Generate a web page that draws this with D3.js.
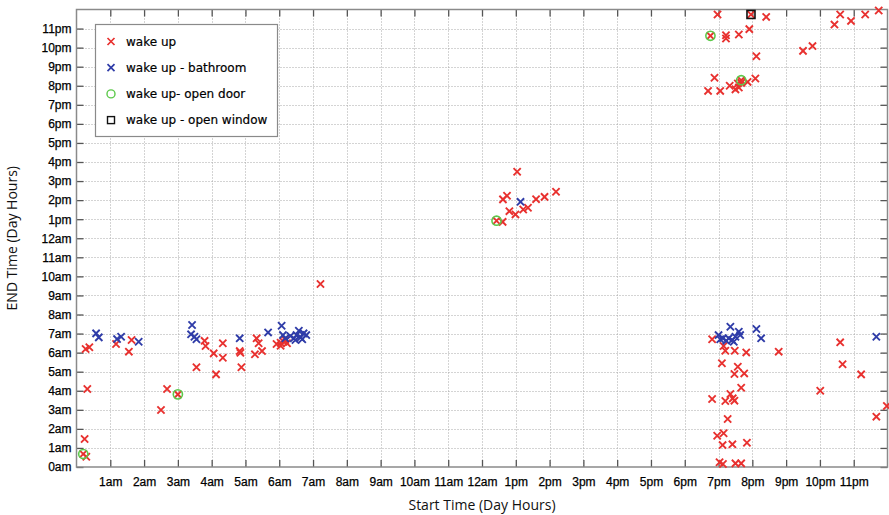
<!DOCTYPE html>
<html>
<head>
<meta charset="utf-8">
<script src="https://cdn.jsdelivr.net/npm/d3@7"></script>
<style>
  body { margin: 0; background: #fff; }
  svg { display: block; }
</style>
</head>
<body>
<svg id="chart"></svg>
<script>
// tick labels
const xTickHours = d3.range(1, 24);
const yTickHours = d3.range(0, 24);
const hourLabels = ["0am", "1am", "2am", "3am", "4am", "5am", "6am", "7am", "8am", "9am", "10am", "11am",
  "12am", "1pm", "2pm", "3pm", "4pm", "5pm", "6pm", "7pm", "8pm", "9pm", "10pm", "11pm"];

// [start hour, end hour]
const wakeUp = [
  [0.27, 6.19], [0.38, 6.28], [0.32, 4.09], [0.24, 1.47], [0.2, 0.68], [0.29, 0.54],
  [1.17, 6.45], [1.63, 6.66], [1.55, 6.05],
  [2.68, 4.09], [2.5, 2.99], [3.0, 3.81],
  [3.79, 6.62], [3.82, 6.35], [3.55, 5.23], [4.06, 5.96], [4.13, 4.86], [4.33, 6.49], [4.33, 5.73],
  [4.83, 6.08], [4.85, 5.99], [4.88, 5.23],
  [5.33, 6.75], [5.39, 6.49], [5.28, 5.91], [5.49, 6.08],
  [5.92, 6.45], [6.04, 6.52], [6.13, 6.57], [6.04, 6.36], [6.18, 6.66], [6.23, 6.49],
  [7.22, 9.6],
  [13.04, 15.49], [12.62, 14.04], [12.74, 14.23], [12.81, 13.42], [12.99, 13.25], [13.22, 13.51],
  [13.36, 13.6], [13.6, 14.05], [13.85, 14.17], [14.19, 14.44], [12.43, 12.92], [12.61, 12.86],
  [18.97, 23.74], [19.96, 23.74], [20.41, 23.61], [18.76, 22.62], [19.22, 22.65], [19.22, 22.48],
  [19.6, 22.69], [19.91, 22.97], [20.12, 21.55], [18.88, 20.42], [18.69, 19.73], [19.05, 19.73],
  [19.33, 20.0], [19.5, 19.81], [19.6, 19.91], [19.67, 20.15], [19.57, 20.12], [19.67, 20.29],
  [19.86, 20.2], [20.09, 20.38], [21.5, 21.83], [21.78, 22.08], [22.43, 23.21], [22.6, 23.74],
  [22.92, 23.4], [23.34, 23.74], [23.74, 23.95],
  [18.81, 6.7], [19.15, 6.35], [19.2, 6.1], [19.48, 6.1], [19.82, 6.01], [19.1, 5.44], [19.57, 5.26],
  [19.47, 4.88], [19.76, 4.91], [19.67, 4.16], [18.81, 3.57], [19.35, 3.83], [19.2, 3.46],
  [19.42, 3.6], [19.47, 3.48], [19.27, 2.52], [18.96, 1.64], [19.15, 1.77], [19.12, 1.15],
  [19.41, 1.19], [19.84, 1.27], [19.03, 0.25], [19.13, 0.16], [19.5, 0.19], [19.67, 0.19],
  [20.78, 6.05],
  [22.6, 6.54], [22.67, 5.39], [23.22, 4.86], [22.01, 4.0], [23.98, 3.2], [23.67, 2.64]
];
const bathroom = [
  [0.58, 7.01], [0.66, 6.8], [1.2, 6.71], [1.32, 6.83], [1.84, 6.57],
  [3.42, 7.45], [3.39, 6.96], [3.49, 6.83], [3.55, 6.7],
  [4.83, 6.75], [5.67, 7.06], [6.07, 7.41], [6.11, 6.92], [6.18, 6.75],
  [6.33, 6.87], [6.43, 6.75], [6.51, 6.92], [6.58, 7.15], [6.63, 6.8], [6.72, 7.01], [6.8, 6.92],
  [6.48, 6.66], [6.68, 6.7],
  [13.14, 13.91],
  [19.35, 7.36], [20.12, 7.24], [20.26, 6.75], [19.6, 7.1], [19.64, 6.92], [19.0, 6.92],
  [19.13, 6.75], [19.23, 6.62], [19.3, 6.75], [19.4, 6.66], [19.5, 6.83], [19.05, 6.7], [19.45, 6.57],
  [23.67, 6.83]
];
const openDoor = [[0.2, 0.68], [3.0, 3.81], [12.43, 12.92], [18.76, 22.62], [19.67, 20.29]];
const openWindow = [[19.96, 23.74]];

const width = 889, height = 515;
const plot = { left: 76.5, right: 887.5, top: 9.5, bottom: 467 };

const red = "#e8312f", blue = "#2f3ca8", green = "#5cc94a", frameColor = "#8a8a8a";

const svg = d3.select("#chart").attr("width", width).attr("height", height)
  .style("font-family", "'DejaVu Sans', sans-serif");

const x = d3.scaleLinear().domain([0, 24]).range([plot.left, plot.right]);
const y = d3.scaleLinear().domain([0, 24]).range([plot.bottom, plot.top]);

// grid
const grid = svg.append("g").attr("stroke", "#a8a8a8").attr("stroke-width", 1)
  .attr("stroke-dasharray", "1,2");
grid.selectAll(".gx").data(xTickHours).join("line")
  .attr("x1", d => Math.round(x(d)) + 0.5).attr("x2", d => Math.round(x(d)) + 0.5)
  .attr("y1", plot.top).attr("y2", plot.bottom);
grid.selectAll(".gy").data(yTickHours.slice(1)).join("line")
  .attr("y1", d => Math.round(y(d)) + 0.5).attr("y2", d => Math.round(y(d)) + 0.5)
  .attr("x1", plot.left).attr("x2", plot.right);

// axes with inward ticks on all sides
function styleAxis(g) {
  g.select(".domain").remove();
  g.selectAll(".tick line").attr("stroke", "#555").attr("stroke-width", 1.3);
  g.selectAll(".tick text").attr("fill", "#000").attr("font-size", "12px")
    .attr("stroke", "#000").attr("stroke-width", 0.25);
}
svg.append("g").attr("transform", `translate(0,${plot.bottom})`)
  .call(d3.axisBottom(x).tickValues(xTickHours).tickSize(-7).tickPadding(10)
    .tickFormat(d => hourLabels[d]))
  .call(styleAxis);
svg.append("g").attr("transform", `translate(0,${plot.top})`)
  .call(d3.axisTop(x).tickValues(xTickHours).tickSize(-7).tickFormat(""))
  .call(styleAxis);
svg.append("g").attr("transform", `translate(${plot.left},0)`)
  .call(d3.axisLeft(y).tickValues(yTickHours).tickSize(-7).tickPadding(5)
    .tickFormat(d => hourLabels[d]))
  .call(styleAxis);
svg.append("g").attr("transform", `translate(${plot.right},0)`)
  .call(d3.axisRight(y).tickValues(yTickHours).tickSize(-7).tickFormat(""))
  .call(styleAxis);

// frame
svg.append("rect")
  .attr("x", plot.left).attr("y", plot.top)
  .attr("width", plot.right - plot.left).attr("height", plot.bottom - plot.top)
  .attr("fill", "none").attr("stroke", frameColor).attr("stroke-width", 1.5);

// markers
const cross = (s) => `M${-s},${-s}L${s},${s}M${-s},${s}L${s},${-s}`;

const marks = svg.append("g");
function drawCrosses(data, color) {
  marks.append("g").selectAll("path").data(data).join("path")
    .attr("transform", d => `translate(${x(d[0])},${y(d[1])})`)
    .attr("d", cross(3.6))
    .attr("fill", "none").attr("stroke", color).attr("stroke-width", 1.9);
}
drawCrosses(wakeUp, red);
drawCrosses(bathroom, blue);

marks.append("g").selectAll("circle").data(openDoor).join("circle")
  .attr("cx", d => x(d[0])).attr("cy", d => y(d[1])).attr("r", 4.6)
  .attr("fill", "none").attr("stroke", green).attr("stroke-width", 1.6);

marks.append("g").selectAll("rect").data(openWindow).join("rect")
  .attr("x", d => x(d[0]) - 4).attr("y", d => y(d[1]) - 4)
  .attr("width", 8).attr("height", 8)
  .attr("fill", "none").attr("stroke", "#111").attr("stroke-width", 1.6);

// legend
const legendItems = ["wake up", "wake up - bathroom", "wake up- open door", "wake up - open window"];
const legend = svg.append("g");
legend.append("rect").attr("x", 95.5).attr("y", 24.5).attr("width", 182).attr("height", 112)
  .attr("fill", "#fff").attr("stroke", frameColor).attr("stroke-width", 1.2);
const rows = legend.selectAll("g").data(legendItems).join("g")
  .attr("transform", (d, i) => `translate(111,${41.5 + i * 26.2})`);
rows.append("text").attr("x", 15).attr("dy", "0.35em").attr("font-size", "12px")
  .attr("fill", "#000").attr("stroke", "#000").attr("stroke-width", 0.2).text(d => d);
rows.filter((d, i) => i === 0).append("path").attr("d", cross(3.5))
  .attr("stroke", red).attr("stroke-width", 1.7);
rows.filter((d, i) => i === 1).append("path").attr("d", cross(3.5))
  .attr("stroke", blue).attr("stroke-width", 1.7);
rows.filter((d, i) => i === 2).append("circle").attr("r", 4)
  .attr("fill", "none").attr("stroke", green).attr("stroke-width", 1.4);
rows.filter((d, i) => i === 3).append("rect").attr("x", -3.5).attr("y", -3.5)
  .attr("width", 7).attr("height", 7)
  .attr("fill", "none").attr("stroke", "#111").attr("stroke-width", 1.4);

// axis titles
svg.append("text")
  .attr("x", (plot.left + plot.right) / 2).attr("y", 510)
  .attr("text-anchor", "middle").attr("font-family", "'Open Sans', sans-serif")
  .attr("font-size", "14px").attr("fill", "#111")
  .text("Start Time (Day Hours)");
svg.append("text")
  .attr("transform", `translate(17,${(plot.top + plot.bottom) / 2}) rotate(-90)`)
  .attr("text-anchor", "middle").attr("font-family", "'Open Sans', sans-serif")
  .attr("font-size", "14px").attr("fill", "#111")
  .text("END Time (Day Hours)");
</script>
</body>
</html>
